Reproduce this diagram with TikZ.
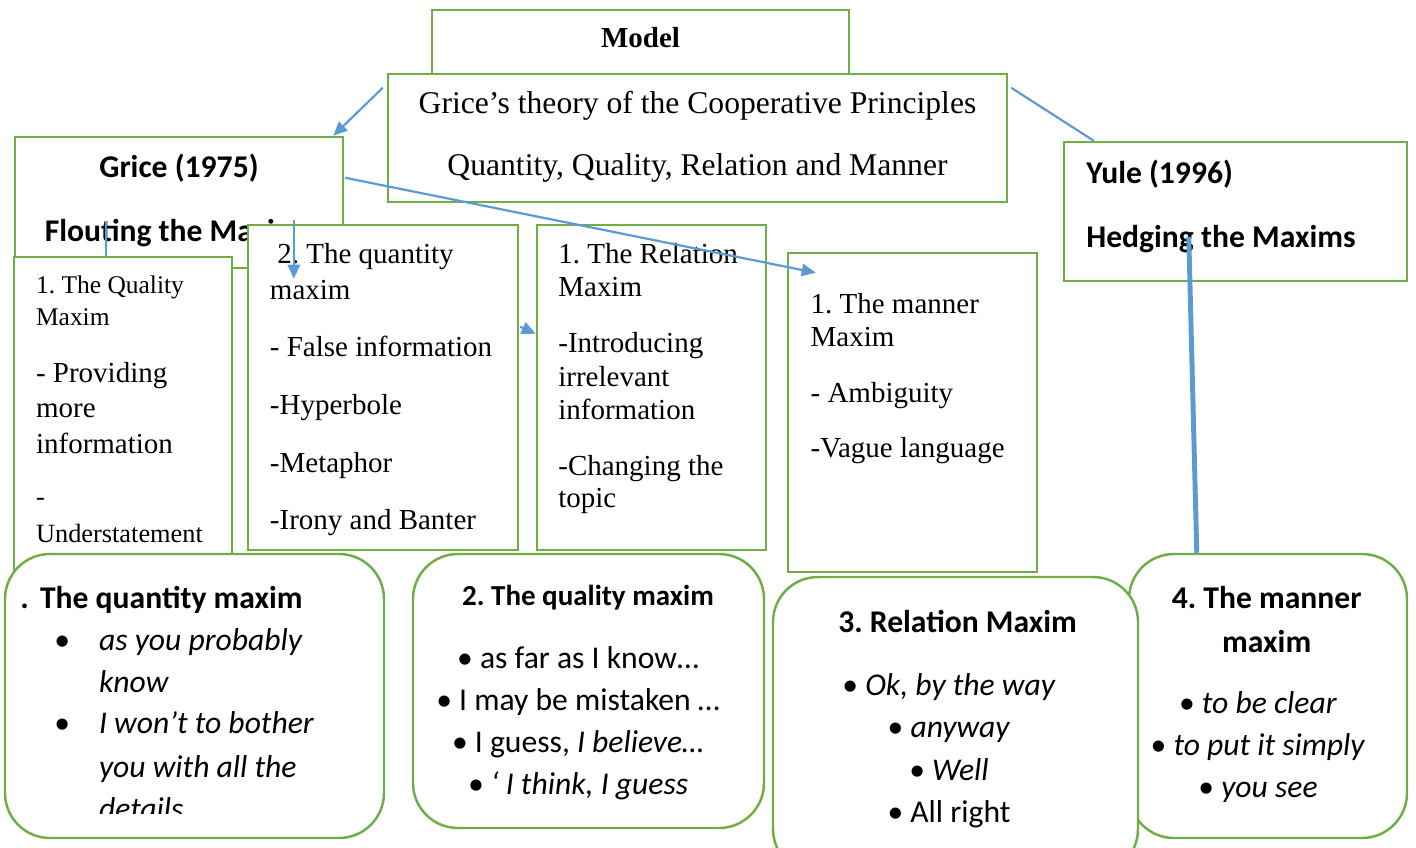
\documentclass[tikz,border=0pt]{standalone}
\usepackage{fontspec}
\setmainfont{Liberation Serif}
\newfontfamily\calibri{Carlito}
\usetikzlibrary{arrows.meta,positioning,calc,fit}
\definecolor{maxgreen}{HTML}{70AD47}
\definecolor{maxblue}{HTML}{5B9BD5}
\newcommand{\fsz}[1]{\fontsize{#1}{#1}\selectfont}
\frenchspacing

\begin{document}
\begin{tikzpicture}[x=0.02cm, y=-0.02cm,
    box/.style={draw=maxgreen, line width=1.4pt, fill=white, inner sep=0pt},
    roundbox/.style={box, rounded corners=0.9cm},
    serif/.style={inner sep=0pt, anchor=base west, font=\fsz{16.5}},
    head/.style={inner sep=0pt, anchor=base, font=\calibri\bfseries\fsz{18}},
    item/.style={inner sep=0pt, anchor=base, font=\calibri\fsz{18}},
    link/.style={draw=maxblue, line width=1.25pt},
    arrow/.style={link, -{Triangle[length=8pt, width=7pt]}}]
\useasboundingbox (0,0) rectangle (1416,848);

% model box, theory box laid over its lower half
\node[box, fit={(432,10) (849,100)}] (model) {};
\node[serif, anchor=base, font=\bfseries\fsz{16.5}] (model-t) at (640.5,48) {Model};
\node[box, fit={(388,74) (1007,202)}] (theory) {};
\node[serif, anchor=base, font=\fsz{18}] (theory-1) at (697.5,113) {Grice’s theory of the Cooperative Principles};
\node[serif, anchor=base, font=\fsz{18}] (theory-2) at (697.5,175) {Quantity, Quality, Relation and Manner};

% the two approaches
\node[box, fit={(15,137) (343,268)}] (grice) {};
\node[head] (grice-1) at (179,177) {Grice (1975)};
\node[head] (grice-2) at (179,241) {Flouting the Maxims};
\node[box, fit={(1064,142) (1407,281)}] (yule) {};
\node[head, anchor=base west] (yule-1) at (1086,183) {Yule (1996)};
\node[head, anchor=base west] (yule-2) at (1086,247) {Hedging the Maxims};

% flouting: one box per maxim
\node[box, fit={(14,257) (232,600)}] (quality) {};
\node[box, fit={(248,225) (518,550)}] (quantity) {};
\node[box, fit={(537,225) (766,550)}] (relation) {};
\node[box, fit={(788,253) (1037,572)}] (manner) {};

\foreach \y/\lbl in {293/{1. The Quality}, 325/Maxim}
  \node[serif, font=\fsz{14.5}] (quality-\y) at (35.7,\y) {\lbl};
\foreach \y/\lbl in {382/{- Providing}, 417/more, 453/information}
  \node[serif] (quality-\y) at (35.7,\y) {\lbl};
\foreach \y/\lbl in {505/-, 542/Understatement}
  \node[serif, font=\fsz{15}] (quality-\y) at (35.7,\y) {\lbl};

\node[serif] (quantity-263) at (277,263) {2. The quantity};
\foreach \y/\lbl in {299/maxim, 356/{- False information}, 414/-Hyperbole, 472/-Metaphor, 529/{-Irony and Banter}}
  \node[serif] (quantity-\y) at (269.6,\y) {\lbl};
\foreach \y/\lbl in {263/{1. The Relation}, 296/Maxim, 352/-Introducing, 386/irrelevant, 419/information, 475/{-Changing the}, 507/topic}
  \node[serif] (relation-\y) at (558,\y) {\lbl};
\foreach \y/\lbl in {313/{1. The manner}, 346/Maxim, 402/{- Ambiguity}, 457/{-Vague language}}
  \node[serif] (manner-\y) at (810.3,\y) {\lbl};

% connectors
\coordinate (split1) at (105.6,221);
\coordinate (split2) at (293.8,220);
\draw[arrow] ($(theory.north west)+(-4,15)$) -- ($(grice.north east)+(-11,0)$);
\draw[link] ($(theory.north east)+(3,15)$) -- ($(yule.north west)+(31,0)$);
\draw[arrow] ($(grice.north east)+(1,42)$) -- ($(manner.north west)+(29,21)$);
\draw[link] (split1) -- (split1 |- quality.north);
\draw[arrow] (split2) -- ($(split2 |- quantity.north)+(0,55)$);
\draw[arrow] ($(quantity.north east)+(1,103)$) -- ($(relation.north west)+(0,110)$);

% hedging: rounded boxes with the usual expressions
\node[roundbox, fit={(5,554) (384,838)}] (quantity-h) {};
\node[head, anchor=base west] (quantity-h0) at (20,608) {.\hspace{6.4pt}The quantity maxim};
\begin{scope}
  \clip (0,0) rectangle (1416,813);
  \foreach \y in {650,733}
    \node[item, anchor=base west] (dot-\y) at (54,\y) {•};
  \foreach \y/\lbl in {650/{as you probably}, 692/know, 733/{I won’t to bother}, 777/{you with all the}, 819/details}
    \node[item, anchor=base west, font=\calibri\itshape\fsz{18}] (quantity-h\y) at (98.7,\y) {\lbl};
\end{scope}

\node[roundbox, fit={(413,554) (764,828)}] (quality-h) {};
\node[head, font=\calibri\bfseries\fsz{16.5}] (quality-h0) at (588,605) {2. The quality maxim};
\node[item] (quality-h1) at (578,668) {• as far as I know…};
\node[item] (quality-h2) at (578,710) {• I may be mistaken …};
\node[item] (quality-h3) at (578,752) {• I guess, \textit{I believe…}};
\node[item, font=\calibri\itshape\fsz{18}] (quality-h4) at (578,794) {• ‘ I think, I guess};

\node[roundbox, fit={(1129,554) (1407,838)}] (manner-h) {};
\node[head] (manner-h0) at (1266.7,608) {4. The manner};
\node[head] (manner-h00) at (1266.7,652) {maxim};
\foreach \y/\lbl [count=\i] in {713/{to be clear}, 755/{to put it simply}, 797/{you see}}
  \node[item] (manner-h\i) at (1258,\y) {• \textit{\lbl}};
\draw[link, line width=2.8pt] ($(yule.north west)+(126,96)$) -- ($(manner-h.north west)+(69,0)$);

\node[roundbox, fit={(773,577) (1138,874)}] (relation-h) {};
\node[head] (relation-h0) at (957.6,632) {3. Relation Maxim};
\foreach \y/\lbl [count=\i] in {695/{Ok, by the way}, 737/anyway, 780/Well}
  \node[item] (relation-h\i) at (949,\y) {• \textit{\lbl}};
\node[item] (relation-h4) at (949,822) {• All right};
\end{tikzpicture}
\end{document}
